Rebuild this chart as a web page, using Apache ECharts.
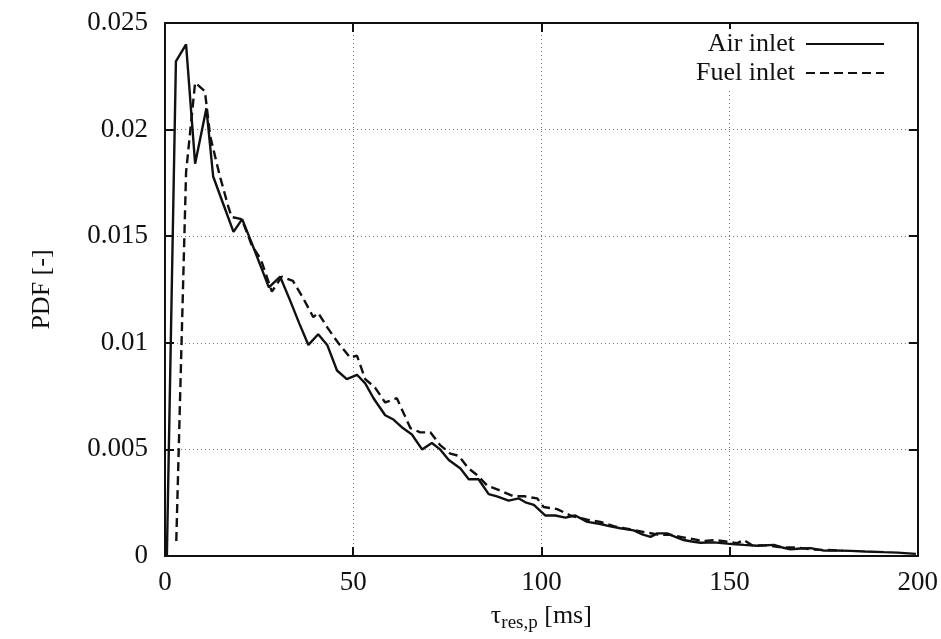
<!DOCTYPE html>
<html>
<head>
<meta charset="utf-8">
<script src="https://cdn.jsdelivr.net/npm/echarts@6/dist/echarts.min.js"></script>
<style>html,body{margin:0;padding:0;background:#fff}#c{width:941px;height:639px}</style>
</head>
<body>
<div id="c"></div>
<script>
const xTicks = [0, 50, 100, 150, 200];
const yTicks = [0, 0.005, 0.01, 0.015, 0.02, 0.025];

const airX = [0.5, 2.9, 5.6, 8.0, 11.0, 12.8, 15.5, 18.2, 20.5, 23.0, 27.6, 30.6, 33.2, 35.7, 38.1, 40.7, 43.1, 45.7, 48.3, 51.0, 53.2, 55.4, 58.5, 60.7, 63.2, 65.6, 68.3, 70.9, 73.1, 75.4, 78.5, 80.7, 83.3, 86.0, 88.2, 91.3, 94.0, 96.0, 98.0, 101.0, 103.7, 106.4, 109.0, 112.2, 115.7, 118.0, 121.0, 124.5, 127.0, 129.0, 130.8, 133.4, 135.6, 137.8, 140.0, 142.3, 145.8, 149.4, 151.6, 153.8, 157.4, 161.8, 164.0, 166.2, 168.8, 171.5, 175.1, 178.0, 182.2, 186.0, 191.0, 194.6, 199.5];
const airY = [0, 0.0232, 0.0240, 0.0184, 0.0210, 0.0178, 0.0165, 0.0152, 0.0158, 0.0147, 0.0126, 0.0131, 0.0120, 0.0109, 0.0099, 0.0104, 0.0099, 0.0087, 0.0083, 0.0085, 0.0081, 0.0074, 0.0066, 0.0064, 0.0060, 0.0057, 0.0050, 0.0053, 0.0050, 0.0045, 0.0041, 0.0036, 0.0036, 0.0029, 0.0028, 0.0026, 0.0027, 0.0025, 0.0024, 0.0019, 0.0019, 0.0018, 0.0019, 0.0016, 0.0015, 0.0014, 0.0013, 0.0012, 0.0010, 0.0009, 0.00106, 0.00106, 0.0009, 0.00075, 0.00068, 0.00062, 0.00064, 0.00058, 0.00055, 0.00052, 0.00048, 0.00052, 0.00040, 0.00031, 0.00035, 0.00037, 0.00025, 0.00026, 0.00024, 0.00021, 0.00018, 0.00016, 0.00010];

const fuelX = [3.0, 5.6, 8.0, 10.6, 12.0, 14.6, 16.8, 17.7, 20.4, 23.0, 25.5, 28.4, 31.0, 34.0, 36.7, 39.4, 40.7, 43.2, 46.0, 49.2, 51.0, 53.2, 55.8, 58.5, 61.6, 63.4, 65.2, 67.8, 70.5, 73.1, 75.8, 78.0, 80.7, 82.9, 85.6, 88.6, 92.6, 95.5, 98.9, 100.6, 104.2, 107.7, 112.2, 115.7, 119.2, 122.0, 125.0, 128.0, 131.0, 134.0, 137.0, 140.0, 143.0, 146.0, 149.4, 152.0, 153.8, 156.0, 160.0, 164.0, 168.0, 172.0, 176.0, 180.0];
const fuelY = [0.0007, 0.0180, 0.0222, 0.0218, 0.0197, 0.0178, 0.0164, 0.0159, 0.0158, 0.0146, 0.0139, 0.0124, 0.0131, 0.0129, 0.0121, 0.0112, 0.0114, 0.0107, 0.0100, 0.0093, 0.0094, 0.0083, 0.0079, 0.0072, 0.0074, 0.0067, 0.0060, 0.0058, 0.0058, 0.0052, 0.0048, 0.0047, 0.0041, 0.0038, 0.0033, 0.0031, 0.0028, 0.0028, 0.0027, 0.0023, 0.0022, 0.0019, 0.0017, 0.0016, 0.0014, 0.0013, 0.0012, 0.0011, 0.0010, 0.0010, 0.0009, 0.0008, 0.0007, 0.00075, 0.00067, 0.0006, 0.00075, 0.0005, 0.0005, 0.0004, 0.0004, 0.0003, 0.00028, 0.00025];

const seriesNames = ['Air inlet', 'Fuel inlet'];

const FONT = '"Liberation Serif", "DejaVu Serif", serif';
const FS = 26;
const chart = echarts.init(document.getElementById('c'));
const pair = (xs, ys) => xs.map((x, i) => [x, ys[i]]);
const axisLineStyle = {show: true, onZero: false, lineStyle: {color: '#111', width: 2}};
const tickStyle = {show: true, inside: true, length: 9, lineStyle: {color: '#111', width: 2}};
const legendBase = {right: 50, align: 'right', itemWidth: 78, itemHeight: 14, itemGap: 0,
  backgroundColor: '#fff', padding: [2, 6, 2, 6], itemStyle: {opacity: 0},
  textStyle: {fontFamily: FONT, fontSize: FS, color: '#111', padding: [0, 6, 0, 0]}};

chart.setOption({
  backgroundColor: '#fff',
  animation: false,
  grid: {left: 165, right: 23, top: 23, bottom: 83, containLabel: false},
  legend: [
    Object.assign({}, legendBase, {data: [seriesNames[0]], top: 29}),
    Object.assign({}, legendBase, {data: [seriesNames[1]], top: 58})
  ],
  xAxis: [{
    type: 'value', min: xTicks[0], max: xTicks[xTicks.length - 1], interval: 50,
    axisLine: axisLineStyle, axisTick: tickStyle,
    axisLabel: {fontFamily: FONT, fontSize: 27, color: '#111', margin: 13},
    splitLine: {show: true, lineStyle: {color: '#777', type: [1, 3], width: 1}},
    name: '{t|τ}{s|res,p}{t| [ms]}', nameLocation: 'middle', nameGap: 44,
    nameTextStyle: {rich: {t: {fontFamily: FONT, fontSize: FS, color: '#111'}, s: {fontFamily: FONT, fontSize: 19, color: '#111', verticalAlign: 'bottom', padding: [14, 0, 0, 0]}}}
  }, {
    type: 'value', position: 'top', min: xTicks[0], max: xTicks[xTicks.length - 1], interval: 50,
    axisLine: axisLineStyle, axisTick: tickStyle, axisLabel: {show: false}, splitLine: {show: false}
  }],
  yAxis: [{
    type: 'value', min: yTicks[0], max: yTicks[yTicks.length - 1], interval: 0.005,
    axisLine: axisLineStyle, axisTick: tickStyle,
    axisLabel: {fontFamily: FONT, fontSize: 27, color: '#111', margin: 17, formatter: v => String(+v.toFixed(3))},
    splitLine: {show: true, lineStyle: {color: '#777', type: [1, 3], width: 1}},
    name: 'PDF [-]', nameLocation: 'middle', nameGap: 110, nameRotate: 90,
    nameTextStyle: {fontFamily: FONT, fontSize: FS, color: '#111'}
  }, {
    type: 'value', position: 'right', min: yTicks[0], max: yTicks[yTicks.length - 1], interval: 0.005,
    axisLine: axisLineStyle, axisTick: tickStyle, axisLabel: {show: false}, splitLine: {show: false}
  }],
  series: [
    {name: seriesNames[0], type: 'line', data: pair(airX, airY), symbol: 'none', z: 3,
     lineStyle: {color: '#111', width: 2.4, type: 'solid'}, itemStyle: {color: '#111'}},
    {name: seriesNames[1], type: 'line', data: pair(fuelX, fuelY), symbol: 'none', z: 4,
     lineStyle: {color: '#111', width: 2.4, type: [9, 5]}, itemStyle: {color: '#111'}}
  ]
});
</script>
</body>
</html>
